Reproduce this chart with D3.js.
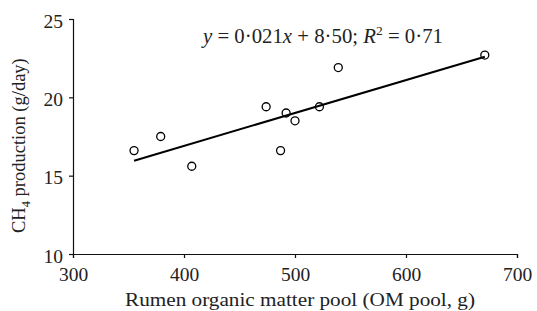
<!DOCTYPE html>
<html><head><meta charset="utf-8">
<script src="https://cdn.jsdelivr.net/npm/d3@7"></script>
<style>body{margin:0;background:#fff}svg{display:block}text{font-family:"Liberation Serif","Times New Roman",serif;fill:#222}</style>
</head><body>
<svg id="c" width="537" height="311"></svg>
<script>
const omPool = [355, 379, 407, 474, 487, 492, 500, 522, 539, 671];
const ch4 = [16.6, 17.5, 15.6, 19.4, 16.6, 19.0, 18.5, 19.4, 21.9, 22.7];
const xTicks = [300, 400, 500, 600, 700];
const yTicks = [10, 15, 20, 25];
const fitSlope = 0.021, fitIntercept = 8.50;
const fitRange = [355, 671];

const svg = d3.select("#c");
const x = d3.scaleLinear().domain([300, 700]).range([73, 517]);
const y = d3.scaleLinear().domain([10, 25]).range([254, 19]);

const gx = svg.append("g").attr("transform", "translate(0,254)")
  .call(d3.axisBottom(x).tickValues(xTicks).tickSize(4).tickPadding(6));
const gy = svg.append("g").attr("transform", "translate(73,0)")
  .call(d3.axisLeft(y).tickValues(yTicks).tickSize(4).tickPadding(6));
[gx, gy].forEach(g => {
  g.selectAll("path,line").attr("stroke", "#111").attr("stroke-width", 1.2);
  g.selectAll("text").attr("font-size", 19.5).attr("font-family", "Liberation Serif").attr("fill", "#222");
});
gx.selectAll("text").attr("dy", "17px");
gy.selectAll("text").attr("dy", "8px");

svg.append("line")
  .attr("x1", x(fitRange[0])).attr("y1", y(fitSlope * fitRange[0] + fitIntercept))
  .attr("x2", x(fitRange[1])).attr("y2", y(fitSlope * fitRange[1] + fitIntercept))
  .attr("stroke", "#000").attr("stroke-width", 2);

svg.selectAll("circle.pt").data(omPool).join("circle").attr("class", "pt")
  .attr("cx", d => x(d)).attr("cy", (d, i) => y(ch4[i])).attr("r", 4)
  .attr("fill", "none").attr("stroke", "#000").attr("stroke-width", 1.3);

const eq = svg.append("text").attr("x", 203).attr("y", 43).attr("font-size", 20)
  .attr("textLength", 240).attr("lengthAdjust", "spacingAndGlyphs");
eq.append("tspan").attr("font-style", "italic").text("y");
eq.append("tspan").text(" = 0·021");
eq.append("tspan").attr("font-style", "italic").text("x");
eq.append("tspan").text(" + 8·50; ");
eq.append("tspan").attr("font-style", "italic").text("R");
eq.append("tspan").attr("font-size", 13).attr("dy", -8).text("2");
eq.append("tspan").attr("dy", 8).text(" = 0·71");

svg.append("text").attr("x", 125).attr("y", 306)
  .attr("font-size", 19).attr("textLength", 350).attr("lengthAdjust", "spacingAndGlyphs")
  .text("Rumen organic matter pool (OM pool, g)");

const yt = svg.append("text").attr("transform", "translate(25,233) rotate(-90) scale(0.95,1)")
  .attr("font-size", 19.5);
yt.append("tspan").text("CH");
yt.append("tspan").attr("font-size", 13).attr("dy", 5).text("4");
yt.append("tspan").attr("dy", -5).text(" production (g/day)");
</script>
</body></html>
